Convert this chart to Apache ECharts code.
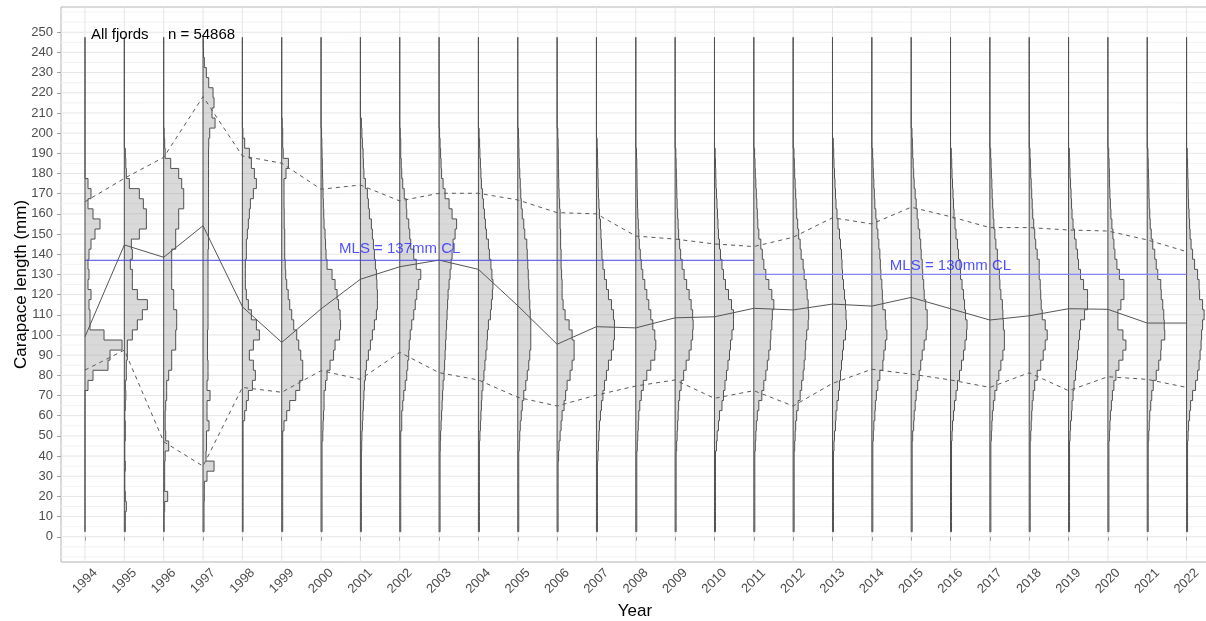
<!DOCTYPE html>
<html>
<head>
<meta charset="utf-8">
<script src="https://cdn.jsdelivr.net/npm/echarts@6/dist/echarts.min.js"></script>
<style>
  html, body { margin: 0; padding: 0; background: #ffffff; }
  #chart { width: 1206px; height: 621px; }
</style>
</head>
<body>
<div id="chart"></div>
<script>
// Survey years
const years = [1994, 1995, 1996, 1997, 1998, 1999, 2000, 2001, 2002, 2003, 2004, 2005, 2006, 2007,
  2008, 2009, 2010, 2011, 2012, 2013, 2014, 2015, 2016, 2017, 2018, 2019, 2020, 2021, 2022];

// Length-frequency per 5 mm carapace-length class, first class centred on 5 mm
const h1994 = [0,0,0,0,0,0,0,0,0,0,0,0,0,0,3,8,23,25,37,19,5,5,4,6,3,4,3,4,6,10,15,8,3,6,3];
const h1995 = [1,1,2,1,0.5,0.5,1,0.5,0.5,1,1,0.5,1,1.5,1,2,2,3,3,8,13,18,23,13,8,8,6,8,7,15,22,22,19,15,5,2,1.5,1];
const h1996 = [0.5,0.5,1,4,1,1,1,1.5,5,2,1.5,1.5,2,3,3,5,8,8,12,12,13,13,10,10,8,8,8,8,12,12,15,15,20,20,18,15,7,1.5,1,0.5];
const h1997 = [1,1,1,1.3,1.3,4,11,3,3.5,3.5,6,4,4,7,4,5,5,4.5,4.5,4.5,5,5,5,5,5,5,5,5,5.5,5.5,5.5,5.5,5.5,5.5,5.5,5.5,5.5,5.5,5.7,6.7,12,9,11,10,5.7,3.3,1.3,0.5,0.3];
const h1998 = [0.7,0.7,0.7,0.7,0.7,0.7,0.7,0.7,0.7,0.7,0.7,2.3,4,6,10,13,11,7,11,17,14,9,6,4,3,3,3,4,4,5,6,7,8,11,14,12,9,7,2.3,0.5];
const h1999 = [1,1,1,1,1,1,1,1,1,1,2.3,5,8,14,18,21,21,19,17,15,12,10,8,6.5,5,4,3.5,3,3,3,2.5,2.5,2.3,2.3,2.3,4.3,6.7,1.5,1,1,0.5];
const h2000 = [1,1,1,1,1,1,1,1,1,1.7,2,2.5,3,3,4.5,6,9,12.5,14,18.5,19.5,19,17.5,16,14,11,6,5,4.5,4,3,2.7,2.3,2,1.7,1.5,1.3,1,0.8,0.5];
const h2001 = [1,1,1,1,1,1,1,1,1.3,1.5,2,2.5,3,3.5,4,5,6,8,10,12,14,16,17,17,16.5,16,15,14,13,12,11,9,8,7,5,3.5,3,2.7,2,1.5,1];
const h2002 = [1,1,1,1,1,1,1,1,1,1,2,2,3,4,5.5,7,8,9,9.5,10.5,12,14,15.5,17,19,21,16.5,14,11,10,9,7,6.5,4.5,3,2,1.5,1,1,0.5];
const h2003 = [1,1,1,1,1,1,1,1,1.2,1.5,2,2.5,3,3.5,4,5,5.5,6,6.5,7,7.5,8,8.5,9,10,11,12,13,14,16,17.5,13,10,6,4,2.5,2,1.5,1,0.5];
const h2004 = [1,1,1,1,1,1,1,1,1,1.5,2,2.5,3,3.5,4.5,5.5,6.5,7.5,8.5,9,10,12,13,14,14.5,13.5,12.5,11,10,8,7,6,5,4,3,2.5,2,1.5,1.2,0.7];
const h2005 = [1,1,1,1,1,1,1,1,1.5,2,2.5,3.5,4.5,6,8,9.5,11,12,13,13,13,12.5,12,11.5,11,10.5,10,9.5,9,7,6,4.5,3.5,3,2.5,2,1.5,1.2,1,0.7];
const h2006 = [1,1,1,1,1,1,1,1.5,2,3,4,5,7,8.5,10,13,15,17,17,15,12,8,6,5,5,4.5,4,4,3.5,3.5,3,3,2.5,2,1.7,1.5,1.3,1.2,1,0.7];
const h2007 = [1,1,1,1,1,1,1,1.5,2,2.5,3,4,5,6.5,8,10,12,15,17,18,18,17,15,12,10,8,6.5,5.5,5,4.5,4,3,2.5,2,1.7,1.5,1.2,1,0.7];
const h2008 = [1,1,1,1,1,1,1,1,1.5,2,2.5,3,4,5.5,7.5,11,15,19,20,19,17,15,13,11,9,7,5.5,4.5,3.5,3,2.5,2,1.7,1.5,1.3,1.2,1,0.7];
const h2009 = [1,1,1,1,1,1,1,1,1.5,2,2.5,3,3.5,4.5,6,8.5,11,14,16,17.5,18,17.5,16,14,11.5,9,7,5.5,4.5,3.5,3,2.5,2,1.7,1.5,1.2,1,0.7];
const h2010 = [1,1,1,1,1,1,1,1,2,2.7,4,5,7.5,9,10.5,12,13.5,15,16,17.5,19,19,17,14,11,9,7.5,6,5,4,3.5,3,2.5,2,1.5,1.3,1,0.7];
const h2011 = [1,1,1,1,1,1,1,1,1.5,2,2.5,3.5,5,8,10,12,13.5,15,16.5,17,18,18.5,20,18,15,12,10,8.5,7,5,4,3.5,3,2.5,2,1.5,1.2,0.8];
const h2012 = [1,1,1,1,1,1,1,1,1.5,2,2.5,3.5,5,7,8.5,10,11,12,12.5,13.5,15,15.5,15,14,13,11,10,8,7,5.5,4.5,3.5,3,2.5,2,1.5,1.2,0.8];
const h2013 = [1,1,1,1,1,1,1,1,1.5,2,3,3.5,4.5,6,7,8,9,10,11,13,14,13.5,13,12,11,10,9.5,9,8,7,5.5,4.5,3.5,3,2.5,2,1.5,1.2,0.8];
const h2014 = [1,1,1,1,1,1,1,1,1,1.5,2,3,3.5,4.5,6,8,11,12,13.5,15,14,13.5,11,10.5,10,9,8.5,8,7,6,5,4,3,2.5,2,1.5,1.2,0.8];
const h2015 = [1,1,1,1,1,1,1,1,1,1.5,2.5,3,4,5,6.5,8,9.5,11,13,15,16,16,14.5,13,12.5,11.5,11,10,9.5,8.5,7,6,5,4,3,2.5,2,1.5,1.2,0.8];
const h2016 = [1,1,1,1,1,1,1,1,1,1.5,2,3,4,5.5,7,9,11,13,14.5,16,16.5,15,14,13,11.5,10,9.5,8,7,5.5,4.5,3.5,3,2.5,2,1.5,1.2,0.8];
const h2017 = [1,1,1,1,1,1,1,1,1,1.5,2,2.5,3.5,5,7,9,11,13,14.5,14.5,13.5,13,12.5,11,10,9.5,8,7.5,6,5,4,3.3,2.8,2.3,2,1.5,1.2,0.8];
const h2018 = [1,1,1,1,1,1,1,1,1,1.5,2,2.5,3,4,5.5,8,11.5,14,16,18,16,13,12,11.5,11,10,10,8,6.5,5.5,4.5,3.5,3,2.5,2,1.5,1.2,0.8];
const h2019 = [1,1,1,1,1,1,1,1,1,1.5,2,3,3.5,4.5,5.5,7,8,9,10,11,12,16,19,19,15,12,10,9,7.5,6,4.5,3.5,3,2.5,2,1.5,1.2,0.8];
const h2020 = [1,1,1,1,1,1,1,1,1,1.5,2,2.5,3.5,4.5,6,8,11,15,18,15,10,10,13,16,16,11.5,9,7,6,5,4,3,2.5,2,1.7,1.5,1.2,0.8];
const h2021 = [1,1,1,1,1,1,1,1,1,1.5,2,2.5,3.5,4.5,6,9,11.5,13.5,14,17.5,17,16.5,15.5,14,13.5,10.5,9,7.5,5.5,4,3,2.5,2,1.7,1.5,1.2,1,0.7];
const h2022 = [1,1,1,1,1,1,1,1,1,1.5,2,3,4,6,9,11,12.5,13.5,14.5,15,16,17.5,16,13,12.5,11,8,6,4.5,3.5,3,2.5,2,1.7,1.5,1.2,1,0.7];

// Yearly mean carapace length and the lower / upper percentile bands (mm)
const meanCL  = [99.1,144.6,138.5,154.1,114.0,96.3,112.9,127.6,133.8,137.1,132.5,114.5,95.4,104.1,
  103.5,108.5,109.0,113.2,112.4,115.3,114.3,118.6,113.0,107.4,109.5,113.0,112.7,105.9,105.9];
const upperCL = [166,177.6,188,218.1,188.7,185.1,172.2,174.3,166.4,170.2,170.2,166.9,160.6,160.0,
  149,147.5,145.1,143.8,148.4,158.1,155.0,163.3,158.6,153.2,153.2,152.0,151.5,147.1,141.3];
const lowerCL = [82.6,92.5,47.1,35.0,74.0,71.6,82.3,78.0,91.4,81.3,77.7,69.1,64.8,70.2,
  74.7,77.7,68.6,72.4,64.8,76.0,83.0,80.6,77.7,74.0,81.3,72.4,79.3,78.0,74.0];

// Minimum landing size regimes
const mlsOld = 137, mlsNew = 130, mlsChangeYear = 2011;
const mlsOldLabelYear = 2002, mlsNewLabelYear = 2016;

// Axis breaks
const yTicks = [0,10,20,30,40,50,60,70,80,90,100,110,120,130,140,150,160,170,180,190,200,210,220,230,240,250];
const yMinorGrid = [-10,-5,5,15,25,35,45,55,65,75,85,95,105,115,125,135,145,155,165,175,185,195,205,215,225,235,245,255,260];

const histByYear = [h1994,h1995,h1996,h1997,h1998,h1999,h2000,h2001,h2002,h2003,h2004,h2005,h2006,h2007,
  h2008,h2009,h2010,h2011,h2012,h2013,h2014,h2015,h2016,h2017,h2018,h2019,h2020,h2021,h2022];

const BIN = 5;            // class width (mm)
const FIRST_BIN = 5;      // centre of the first class (mm)
const N_BINS = 49;        // classes 5 ... 245 mm
const FREQ_TO_YEARS = 1 / 39.3;   // horizontal extent of one frequency unit on the year axis

const X_MIN = 1993.39, X_MAX = 2022.57;
const Y_MIN = -12.5, Y_MAX = 262.5;
const FONT = '"Liberation Sans", Arial, Helvetica, sans-serif';

const chart = echarts.init(document.getElementById('chart'), null, { renderer: 'canvas' });

function renderHistogram(params, api) {
  const i = params.dataIndex;
  const yr = api.value(0);
  const freq = histByYear[i];
  const pts = [];
  const bottom = FIRST_BIN - BIN / 2;
  const top = FIRST_BIN + (N_BINS - 1) * BIN + BIN / 2;
  pts.push(api.coord([yr, bottom]));
  for (let b = 0; b < N_BINS; b++) {
    const w = (freq[b] || 0) * FREQ_TO_YEARS;
    const lo = bottom + b * BIN;
    pts.push(api.coord([yr + w, lo]));
    pts.push(api.coord([yr + w, lo + BIN]));
  }
  pts.push(api.coord([yr, top]));
  return {
    type: 'polygon',
    shape: { points: pts },
    style: { fill: 'rgba(128,128,128,0.3)', stroke: '#505050', lineWidth: 1 }
  };
}

// Panel grid: [value, 0 = horizontal / 1 = vertical, 1 = major / 0 = minor]
const gridSpec = [];
yTicks.forEach(v => gridSpec.push([v, 0, 1]));
yMinorGrid.forEach(v => gridSpec.push([v, 0, 0]));
years.forEach(v => gridSpec.push([v, 1, 1]));

function renderGridLine(params, api) {
  const v = api.value(0), vertical = api.value(1) === 1, major = api.value(2) === 1;
  const p1 = vertical ? api.coord([v, Y_MIN]) : api.coord([X_MIN, v]);
  const p2 = vertical ? api.coord([v, Y_MAX]) : api.coord([X_MAX, v]);
  return {
    type: 'line',
    shape: { x1: p1[0], y1: p1[1], x2: p2[0], y2: p2[1] },
    style: { stroke: major ? '#e6e6e6' : '#f2f2f2', lineWidth: 1 }
  };
}

const pairs = arr => years.map((y, i) => [y, arr[i]]);

const option = {
  animation: false,
  backgroundColor: '#ffffff',
  grid: {
    left: 61, top: 7, right: -3, bottom: 59,
    containLabel: false, outerBoundsMode: 'none',
    show: true, borderColor: '#b3b3b3', borderWidth: 1, backgroundColor: 'transparent'
  },
  xAxis: {
    type: 'value', min: X_MIN, max: X_MAX,
    name: 'Year', nameLocation: 'middle', nameGap: 41, nameMoveOverlap: false,
    nameTextStyle: { fontFamily: FONT, fontSize: 17, color: '#000000', verticalAlign: 'top' },
    axisLine: { show: false },
    axisTick: { show: true, customValues: years, length: 4, lineStyle: { color: '#a0a0a0' } },
    axisLabel: {
      customValues: years, rotate: 45, align: 'center', verticalAlign: 'middle', margin: 19,
      fontFamily: FONT, fontSize: 13, color: '#4d4d4d', formatter: v => String(Math.round(v))
    },
    splitLine: { show: false }
  },
  yAxis: {
    type: 'value', min: Y_MIN, max: Y_MAX,
    name: 'Carapace length (mm)', nameLocation: 'middle', nameGap: 31, nameRotate: 90,
    nameMoveOverlap: false,
    nameTextStyle: { fontFamily: FONT, fontSize: 17, color: '#000000' },
    axisLine: { show: false },
    axisTick: { show: true, customValues: yTicks, length: 4, lineStyle: { color: '#a0a0a0' } },
    axisLabel: { customValues: yTicks, margin: 8, fontFamily: FONT, fontSize: 13, color: '#4d4d4d' },
    splitLine: { show: false }
  },
  graphic: [
    { type: 'text', left: 91, top: 27, z: 20,
      style: { text: 'All fjords', font: '15px ' + FONT, fill: '#000000' } },
    { type: 'text', left: 168, top: 27, z: 20,
      style: { text: 'n = 54868', font: '15px ' + FONT, fill: '#000000' } }
  ],
  series: [
    {
      name: 'panel grid', type: 'custom', z: 0, silent: true,
      data: gridSpec, encode: { x: 0 },
      renderItem: renderGridLine
    },
    {
      name: 'length distribution', type: 'custom', z: 2, silent: true,
      data: years.map(y => [y]),
      encode: { x: 0 },
      renderItem: renderHistogram
    },
    {
      name: 'upper', type: 'line', z: 3, symbol: 'none', silent: true,
      data: pairs(upperCL), lineStyle: { color: '#5a5a5a', width: 1, type: [4, 4] }
    },
    {
      name: 'lower', type: 'line', z: 3, symbol: 'none', silent: true,
      data: pairs(lowerCL), lineStyle: { color: '#5a5a5a', width: 1, type: [4, 4] }
    },
    {
      name: 'mean', type: 'line', z: 3, symbol: 'none', silent: true,
      data: pairs(meanCL), lineStyle: { color: '#555555', width: 1 }
    },
    {
      name: 'MLS 137', type: 'line', z: 4, symbol: 'none', silent: true,
      data: [[years[0], mlsOld], [mlsChangeYear, mlsOld]],
      lineStyle: { color: '#4848e0', width: 1 }
    },
    {
      name: 'MLS 130', type: 'line', z: 4, symbol: 'none', silent: true,
      data: [[mlsChangeYear, mlsNew], [years[years.length - 1], mlsNew]],
      lineStyle: { color: '#8585ff', width: 1.3 }
    },
    {
      name: 'MLS labels', type: 'scatter', z: 5, symbolSize: 0, silent: true,
      data: [
        { value: [mlsOldLabelYear, mlsOld], label: { offset: [0, -11], formatter: 'MLS = ' + mlsOld + 'mm CL' } },
        { value: [mlsNewLabelYear, mlsNew], label: { offset: [0, -8.5], formatter: 'MLS = ' + mlsNew + 'mm CL' } }
      ],
      label: { show: true, position: 'inside', fontFamily: FONT, fontSize: 15, color: '#2626ff' }
    }
  ]
};

chart.setOption(option);
</script>
</body>
</html>
